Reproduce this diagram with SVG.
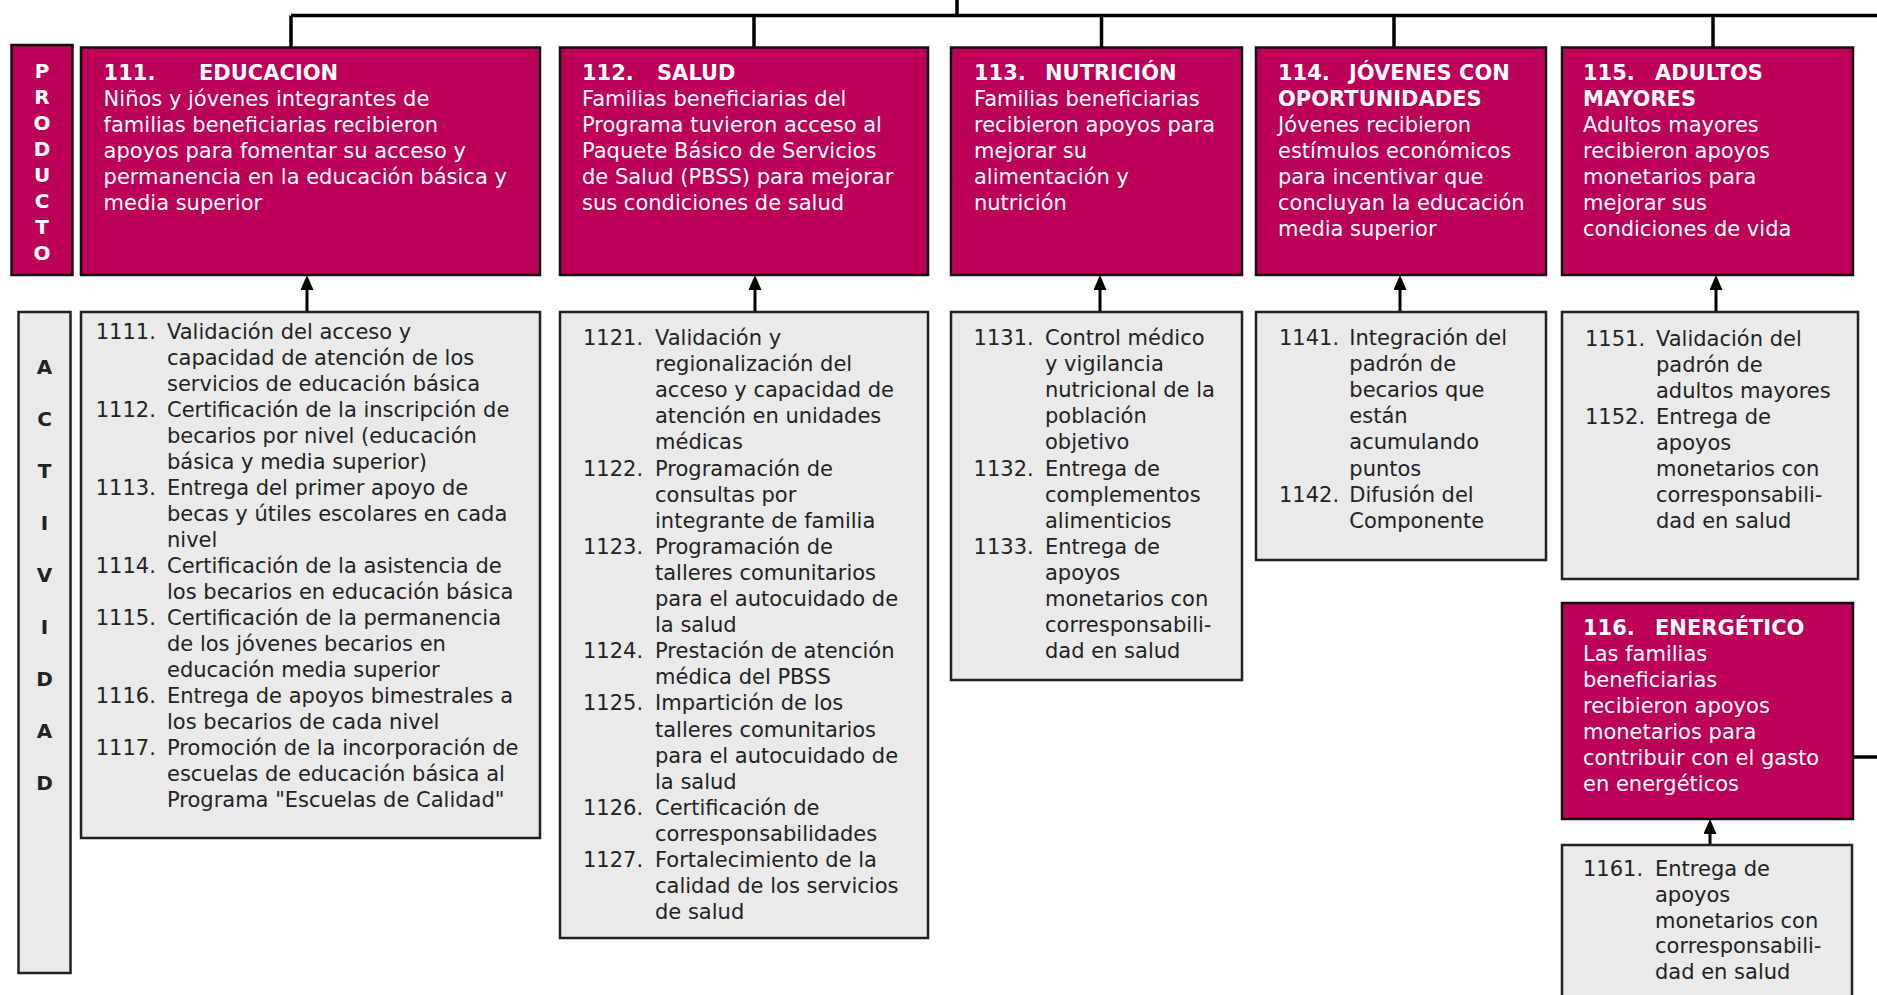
<svg xmlns="http://www.w3.org/2000/svg" width="1877" height="995" viewBox="0 0 1877 995">
<defs>
<style>
.prod{fill:#BD0057;stroke:#111;stroke-width:2.5}
.act{fill:#EAEAEA;stroke:#222;stroke-width:2.5}
.conn{fill:none;stroke:#000;stroke-width:3.5}
.arr{fill:none;stroke:#000;stroke-width:3}
text{font-family:"DejaVu Sans",Verdana,sans-serif;font-size:21px}
.w{fill:#fff}
.b{font-weight:bold}
.k{fill:#222}
.lab{font-weight:bold;font-size:20px;text-anchor:middle}
</style>
<marker id="ah" markerUnits="userSpaceOnUse" markerWidth="15" markerHeight="13" viewBox="0 0 15 13" refX="0" refY="6.5" orient="auto">
<path d="M0,0 L15,6.5 L0,13 z" fill="#000"/>
</marker>
</defs>
<rect width="1877" height="995" fill="#fff"/>

<g id="connectors">
<path class="conn" d="M957,0 V15.5 M291,15.5 H1877 M291,15.5 V47.5 M754,15.5 V47.5 M1101.5,15.5 V47.5 M1394,15.5 V47.5 M1713,15.5 V47.5"/>
<path class="conn" d="M1853,757 H1877"/>
<path class="arr" d="M307,312 V290" marker-end="url(#ah)"/>
<path class="arr" d="M755,312 V290" marker-end="url(#ah)"/>
<path class="arr" d="M1100,312 V290" marker-end="url(#ah)"/>
<path class="arr" d="M1400,312 V290" marker-end="url(#ah)"/>
<path class="arr" d="M1716,312 V290" marker-end="url(#ah)"/>
<path class="arr" d="M1710,845 V834" marker-end="url(#ah)"/>
</g>

<g id="producto-label">
<rect class="prod" x="11.5" y="45" width="61" height="230"/>
<text class="w lab"><tspan x="42" y="77.5">P</tspan><tspan x="42" y="103.6">R</tspan><tspan x="42" y="129.7">O</tspan><tspan x="42" y="155.8">D</tspan><tspan x="42" y="181.9">U</tspan><tspan x="42" y="208">C</tspan><tspan x="42" y="234.1">T</tspan><tspan x="42" y="260.2">O</tspan></text>
</g>

<g id="actividad-label">
<rect class="act" x="18.5" y="312" width="52" height="661"/>
<text class="k lab"><tspan x="44.5" y="374">A</tspan><tspan x="44.5" y="426">C</tspan><tspan x="44.5" y="478">T</tspan><tspan x="44.5" y="530">I</tspan><tspan x="44.5" y="582">V</tspan><tspan x="44.5" y="634">I</tspan><tspan x="44.5" y="686">D</tspan><tspan x="44.5" y="738">A</tspan><tspan x="44.5" y="790">D</tspan></text>
</g>

<g id="p111">
<rect class="prod" x="81" y="47.5" width="459" height="227.5"/>
<text class="w b" x="103.6" y="80">111.</text>
<text class="w b" x="199" y="80">EDUCACION</text>
<text class="w"><tspan x="103.6" y="106">Niños y jóvenes integrantes de</tspan><tspan x="103.6" y="132">familias beneficiarias recibieron</tspan><tspan x="103.6" y="158">apoyos para fomentar su acceso y</tspan><tspan x="103.6" y="184">permanencia en la educación básica y</tspan><tspan x="103.6" y="210">media superior</tspan></text>
</g>

<g id="p112">
<rect class="prod" x="560" y="47.5" width="368" height="227.5"/>
<text class="w b" x="582" y="80">112.</text>
<text class="w b" x="657" y="80">SALUD</text>
<text class="w"><tspan x="582" y="106">Familias beneficiarias del</tspan><tspan x="582" y="132">Programa tuvieron acceso al</tspan><tspan x="582" y="158">Paquete Básico de Servicios</tspan><tspan x="582" y="184">de Salud (PBSS) para mejorar</tspan><tspan x="582" y="210">sus condiciones de salud</tspan></text>
</g>

<g id="p113">
<rect class="prod" x="951" y="47.5" width="291" height="227.5"/>
<text class="w b" x="974" y="80">113.</text>
<text class="w b" x="1045" y="80">NUTRICIÓN</text>
<text class="w"><tspan x="974" y="106">Familias beneficiarias</tspan><tspan x="974" y="132">recibieron apoyos para</tspan><tspan x="974" y="158">mejorar su</tspan><tspan x="974" y="184">alimentación y</tspan><tspan x="974" y="210">nutrición</tspan></text>
</g>

<g id="p114">
<rect class="prod" x="1256" y="47.5" width="290" height="227.5"/>
<text class="w b" x="1278" y="80">114.</text>
<text class="w b" x="1349" y="80">JÓVENES CON</text>
<text class="w b" x="1278" y="106">OPORTUNIDADES</text>
<text class="w"><tspan x="1278" y="132">Jóvenes recibieron</tspan><tspan x="1278" y="158">estímulos económicos</tspan><tspan x="1278" y="184">para incentivar que</tspan><tspan x="1278" y="210">concluyan la educación</tspan><tspan x="1278" y="236">media superior</tspan></text>
</g>

<g id="p115">
<rect class="prod" x="1562" y="47.5" width="291" height="227.5"/>
<text class="w b" x="1583" y="80">115.</text>
<text class="w b" x="1655" y="80">ADULTOS</text>
<text class="w b" x="1583" y="106">MAYORES</text>
<text class="w"><tspan x="1583" y="132">Adultos mayores</tspan><tspan x="1583" y="158">recibieron apoyos</tspan><tspan x="1583" y="184">monetarios para</tspan><tspan x="1583" y="210">mejorar sus</tspan><tspan x="1583" y="236">condiciones de vida</tspan></text>
</g>

<g id="p116">
<rect class="prod" x="1562" y="603" width="291" height="216"/>
<text class="w b" x="1583" y="635">116.</text>
<text class="w b" x="1655" y="635">ENERGÉTICO</text>
<text class="w"><tspan x="1583" y="661">Las familias</tspan><tspan x="1583" y="687">beneficiarias</tspan><tspan x="1583" y="713">recibieron apoyos</tspan><tspan x="1583" y="739">monetarios para</tspan><tspan x="1583" y="765">contribuir con el gasto</tspan><tspan x="1583" y="791">en energéticos</tspan></text>
</g>

<g id="a111">
<rect class="act" x="81" y="312" width="459" height="526"/>
<text class="k"><tspan x="95.7" y="339">1111.</tspan><tspan x="95.7" y="417">1112.</tspan><tspan x="95.7" y="495">1113.</tspan><tspan x="95.7" y="573">1114.</tspan><tspan x="95.7" y="625">1115.</tspan><tspan x="95.7" y="703">1116.</tspan><tspan x="95.7" y="755">1117.</tspan></text>
<text class="k"><tspan x="167" y="339">Validación del acceso y</tspan><tspan x="167" y="365">capacidad de atención de los</tspan><tspan x="167" y="391">servicios de educación básica</tspan><tspan x="167" y="417">Certificación de la inscripción de</tspan><tspan x="167" y="443">becarios por nivel (educación</tspan><tspan x="167" y="469">básica y media superior)</tspan><tspan x="167" y="495">Entrega del primer apoyo de</tspan><tspan x="167" y="521">becas y útiles escolares en cada</tspan><tspan x="167" y="547">nivel</tspan><tspan x="167" y="573">Certificación de la asistencia de</tspan><tspan x="167" y="599">los becarios en educación básica</tspan><tspan x="167" y="625">Certificación de la permanencia</tspan><tspan x="167" y="651">de los jóvenes becarios en</tspan><tspan x="167" y="677">educación media superior</tspan><tspan x="167" y="703">Entrega de apoyos bimestrales a</tspan><tspan x="167" y="729">los becarios de cada nivel</tspan><tspan x="167" y="755">Promoción de la incorporación de</tspan><tspan x="167" y="781">escuelas de educación básica al</tspan><tspan x="167" y="807">Programa "Escuelas de Calidad"</tspan></text>
</g>

<g id="a112">
<rect class="act" x="560" y="312" width="368" height="626"/>
<text class="k"><tspan x="583" y="345">1121.</tspan><tspan x="583" y="475.5">1122.</tspan><tspan x="583" y="553.8">1123.</tspan><tspan x="583" y="658.2">1124.</tspan><tspan x="583" y="710.4">1125.</tspan><tspan x="583" y="814.8">1126.</tspan><tspan x="583" y="867">1127.</tspan></text>
<text class="k"><tspan x="655" y="345">Validación y</tspan><tspan x="655" y="371.1">regionalización del</tspan><tspan x="655" y="397.2">acceso y capacidad de</tspan><tspan x="655" y="423.3">atención en unidades</tspan><tspan x="655" y="449.4">médicas</tspan><tspan x="655" y="475.5">Programación de</tspan><tspan x="655" y="501.6">consultas por</tspan><tspan x="655" y="527.7">integrante de familia</tspan><tspan x="655" y="553.8">Programación de</tspan><tspan x="655" y="579.9">talleres comunitarios</tspan><tspan x="655" y="606">para el autocuidado de</tspan><tspan x="655" y="632.1">la salud</tspan><tspan x="655" y="658.2">Prestación de atención</tspan><tspan x="655" y="684.3">médica del PBSS</tspan><tspan x="655" y="710.4">Impartición de los</tspan><tspan x="655" y="736.5">talleres comunitarios</tspan><tspan x="655" y="762.6">para el autocuidado de</tspan><tspan x="655" y="788.7">la salud</tspan><tspan x="655" y="814.8">Certificación de</tspan><tspan x="655" y="840.9">corresponsabilidades</tspan><tspan x="655" y="867">Fortalecimiento de la</tspan><tspan x="655" y="893.1">calidad de los servicios</tspan><tspan x="655" y="919.2">de salud</tspan></text>
</g>

<g id="a113">
<rect class="act" x="951" y="312" width="291" height="368"/>
<text class="k"><tspan x="973.6" y="345">1131.</tspan><tspan x="973.6" y="475.5">1132.</tspan><tspan x="973.6" y="553.8">1133.</tspan></text>
<text class="k"><tspan x="1045" y="345">Control médico</tspan><tspan x="1045" y="371.1">y vigilancia</tspan><tspan x="1045" y="397.2">nutricional de la</tspan><tspan x="1045" y="423.3">población</tspan><tspan x="1045" y="449.4">objetivo</tspan><tspan x="1045" y="475.5">Entrega de</tspan><tspan x="1045" y="501.6">complementos</tspan><tspan x="1045" y="527.7">alimenticios</tspan><tspan x="1045" y="553.8">Entrega de</tspan><tspan x="1045" y="579.9">apoyos</tspan><tspan x="1045" y="606">monetarios con</tspan><tspan x="1045" y="632.1">corresponsabili-</tspan><tspan x="1045" y="658.2">dad en salud</tspan></text>
</g>

<g id="a114">
<rect class="act" x="1256" y="312" width="290" height="248"/>
<text class="k"><tspan x="1279" y="345">1141.</tspan><tspan x="1279" y="501.6">1142.</tspan></text>
<text class="k"><tspan x="1349.3" y="345">Integración del</tspan><tspan x="1349.3" y="371.1">padrón de</tspan><tspan x="1349.3" y="397.2">becarios que</tspan><tspan x="1349.3" y="423.3">están</tspan><tspan x="1349.3" y="449.4">acumulando</tspan><tspan x="1349.3" y="475.5">puntos</tspan><tspan x="1349.3" y="501.6">Difusión del</tspan><tspan x="1349.3" y="527.7">Componente</tspan></text>
</g>

<g id="a115">
<rect class="act" x="1562" y="312" width="296" height="267"/>
<text class="k"><tspan x="1585" y="346">1151.</tspan><tspan x="1585" y="424">1152.</tspan></text>
<text class="k"><tspan x="1656" y="346">Validación del</tspan><tspan x="1656" y="372">padrón de</tspan><tspan x="1656" y="398">adultos mayores</tspan><tspan x="1656" y="424">Entrega de</tspan><tspan x="1656" y="450">apoyos</tspan><tspan x="1656" y="476">monetarios con</tspan><tspan x="1656" y="502">corresponsabili-</tspan><tspan x="1656" y="528">dad en salud</tspan></text>
</g>

<g id="a116">
<rect class="act" x="1562" y="845" width="290" height="170"/>
<text class="k"><tspan x="1583" y="876">1161.</tspan></text>
<text class="k"><tspan x="1655" y="876">Entrega de</tspan><tspan x="1655" y="901.8">apoyos</tspan><tspan x="1655" y="927.6">monetarios con</tspan><tspan x="1655" y="953.4">corresponsabili-</tspan><tspan x="1655" y="979.2">dad en salud</tspan></text>
</g>
</svg>
